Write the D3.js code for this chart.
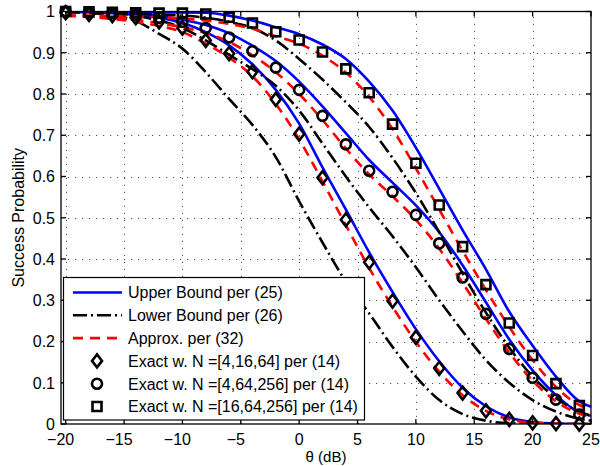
<!DOCTYPE html>
<html>
<head>
<meta charset="utf-8">
<script src="https://cdn.jsdelivr.net/npm/d3@7"></script>
<style>
  body { margin: 0; background: #fff; }
  svg { display: block; font-family: "Liberation Sans", Arial, sans-serif; }
</style>
</head>
<body>
<div id="chart"></div>
<script>
var width = 600
var height = 466

// theta (dB) grid for the markers and for the curves
var thetaMarks = [-20, -18, -16, -14, -12, -10, -8, -6, -4, -2, 0, 2, 4, 6, 8, 10, 12, 14, 16, 18, 20, 22, 24]
var thetaLine = [-20, -18, -16, -14, -12, -10, -8, -6, -4, -2, 0, 2, 4, 6, 8, 10, 12, 14, 16, 18, 20, 22, 24, 25]

// exact values per (14)
var exactA = [0.997, 0.993, 0.990, 0.985, 0.975, 0.960, 0.930, 0.898, 0.854, 0.787, 0.703, 0.597, 0.495, 0.392, 0.298, 0.210, 0.135, 0.075, 0.032, 0.011, 0.003, 0.001, 0.000]
var exactB = [1.000, 0.998, 0.996, 0.992, 0.985, 0.975, 0.960, 0.937, 0.904, 0.864, 0.810, 0.747, 0.678, 0.614, 0.563, 0.507, 0.438, 0.355, 0.267, 0.182, 0.112, 0.059, 0.023]
var exactC = [1.000, 0.999, 0.998, 0.997, 0.996, 0.996, 0.994, 0.986, 0.972, 0.951, 0.931, 0.902, 0.861, 0.803, 0.727, 0.632, 0.531, 0.430, 0.338, 0.245, 0.166, 0.098, 0.045]

// upper bound per (25)
var upperA = [0.999, 0.998, 0.996, 0.992, 0.985, 0.972, 0.950, 0.918, 0.872, 0.810, 0.728, 0.622, 0.520, 0.416, 0.320, 0.230, 0.152, 0.088, 0.043, 0.016, 0.005, 0.001, 0.000, 0.000]
var upperB = [1.000, 0.999, 0.997, 0.994, 0.989, 0.980, 0.967, 0.947, 0.917, 0.880, 0.830, 0.770, 0.705, 0.640, 0.585, 0.530, 0.465, 0.385, 0.295, 0.205, 0.130, 0.070, 0.028, 0.020]
var upperC = [1.000, 1.000, 0.999, 0.999, 0.998, 0.998, 0.997, 0.990, 0.978, 0.962, 0.945, 0.920, 0.885, 0.830, 0.760, 0.670, 0.570, 0.470, 0.375, 0.272, 0.190, 0.115, 0.055, 0.042]

// lower bound per (26)
var lowerA = [0.999, 0.996, 0.990, 0.977, 0.946, 0.910, 0.853, 0.788, 0.725, 0.647, 0.540, 0.440, 0.345, 0.268, 0.187, 0.115, 0.058, 0.024, 0.008, 0.002, 0.001, 0.000, 0.000, 0.000]
var lowerB = [0.999, 0.998, 0.995, 0.990, 0.978, 0.960, 0.930, 0.895, 0.860, 0.820, 0.760, 0.680, 0.600, 0.525, 0.455, 0.380, 0.300, 0.225, 0.155, 0.100, 0.058, 0.030, 0.013, 0.008]
var lowerC = [1.000, 0.999, 0.998, 0.996, 0.992, 0.990, 0.985, 0.975, 0.960, 0.930, 0.885, 0.835, 0.780, 0.720, 0.645, 0.560, 0.465, 0.365, 0.270, 0.185, 0.115, 0.063, 0.030, 0.020]

// approx. per (32)
var approxA = [0.990, 0.987, 0.982, 0.975, 0.965, 0.950, 0.922, 0.888, 0.843, 0.776, 0.690, 0.588, 0.482, 0.378, 0.284, 0.199, 0.127, 0.070, 0.032, 0.011, 0.003, 0.001, 0.000, 0.000]
var approxB = [0.990, 0.988, 0.985, 0.980, 0.972, 0.962, 0.948, 0.926, 0.894, 0.853, 0.800, 0.737, 0.668, 0.605, 0.552, 0.495, 0.425, 0.342, 0.255, 0.173, 0.105, 0.055, 0.025, 0.018]
var approxC = [0.990, 0.990, 0.989, 0.988, 0.986, 0.983, 0.978, 0.970, 0.958, 0.940, 0.922, 0.893, 0.852, 0.793, 0.715, 0.620, 0.520, 0.420, 0.325, 0.235, 0.155, 0.090, 0.046, 0.037]

var xTicks = [-20, -15, -10, -5, 0, 5, 10, 15, 20, 25]
var yTicks = [0, 0.1, 0.2, 0.3, 0.4, 0.5, 0.6, 0.7, 0.8, 0.9, 1]
var legendLabels = ["Upper Bound per (25)", "Lower Bound per (26)", "Approx. per (32)",
  "Exact w. N =[4,16,64] per (14)", "Exact w. N =[4,64,256] per (14)", "Exact w. N =[16,64,256] per (14)"]

var pLeft = 61, pRight = 591, pTop = 11.5, pBottom = 424

var x = d3.scaleLinear().domain([-20.4, 25]).range([pLeft, pRight])
var y = d3.scaleLinear().domain([0, 1]).range([pBottom, pTop])

var svg = d3.select("#chart").append("svg")
  .attr("width", width)
  .attr("height", height)

svg.append("defs").append("clipPath")
  .attr("id", "plot-clip")
  .append("rect")
  .attr("x", pLeft).attr("y", pTop)
  .attr("width", pRight - pLeft).attr("height", pBottom - pTop)

// grid
var grid = svg.append("g")
  .attr("stroke", "#555")
  .attr("stroke-width", 1)
  .attr("stroke-dasharray", "1.2,5.8")

grid.selectAll(".gx")
  .data(xTicks.filter(function (d) { return d < 25 }))
  .enter().append("line")
  .attr("x1", function (d) { return Math.round(x(d)) + 0.5 })
  .attr("x2", function (d) { return Math.round(x(d)) + 0.5 })
  .attr("y1", pBottom).attr("y2", pTop)

grid.selectAll(".gy")
  .data(yTicks.filter(function (d) { return d > 0 && d < 1 }))
  .enter().append("line")
  .attr("y1", function (d) { return Math.round(y(d)) + 0.5 })
  .attr("y2", function (d) { return Math.round(y(d)) + 0.5 })
  .attr("x1", pLeft).attr("x2", pRight)

// curves
var plot = svg.append("g").attr("clip-path", "url(#plot-clip)")

var line = d3.line()
  .x(function (d, i) { return x(thetaLine[i]) })
  .y(function (d) { return y(d) })
  .curve(d3.curveMonotoneX)

var styles = {
  upper: { color: "#0000ff", dash: null },
  lower: { color: "#000000", dash: "14,4,2,4" },
  approx: { color: "#ff0000", dash: "10,7" }
}

var curves = [
  ["upper", upperA], ["upper", upperB], ["upper", upperC],
  ["lower", lowerA], ["lower", lowerB], ["lower", lowerC],
  ["approx", approxA], ["approx", approxB], ["approx", approxC]
]

plot.selectAll(".curve")
  .data(curves)
  .enter().append("path")
  .attr("class", "curve")
  .attr("d", function (d) { return line(d[1]) })
  .attr("fill", "none")
  .attr("stroke", function (d) { return styles[d[0]].color })
  .attr("stroke-width", 2.6)
  .attr("stroke-dasharray", function (d) { return styles[d[0]].dash })

// markers
var symbols = {
  diamond: "M0,-6.5L5,0L0,6.5L-5,0Z",
  circle: "M5,0A5,5 0 1,1 -5,0A5,5 0 1,1 5,0Z",
  square: "M-4.5,-4.5H4.5V4.5H-4.5Z"
}

function drawMarkers(g, values, shape) {
  g.selectAll(".m-" + shape)
    .data(values)
    .enter().append("path")
    .attr("class", "m-" + shape)
    .attr("transform", function (d, i) { return "translate(" + x(thetaMarks[i]) + "," + y(d) + ")" })
    .attr("d", symbols[shape])
    .attr("fill", "none")
    .attr("stroke", "#000")
    .attr("stroke-width", 2.6)
}

var marks = svg.append("g")
drawMarkers(marks, exactA, "diamond")
drawMarkers(marks, exactB, "circle")
drawMarkers(marks, exactC, "square")

// axes box and ticks
var axes = svg.append("g").attr("stroke", "#000").attr("stroke-width", 1.3)

axes.append("rect")
  .attr("x", pLeft).attr("y", pTop)
  .attr("width", pRight - pLeft).attr("height", pBottom - pTop)
  .attr("fill", "none")

xTicks.forEach(function (t) {
  axes.append("line").attr("x1", x(t)).attr("x2", x(t)).attr("y1", pBottom).attr("y2", pBottom - 5)
  axes.append("line").attr("x1", x(t)).attr("x2", x(t)).attr("y1", pTop).attr("y2", pTop + 5)
})
yTicks.forEach(function (t) {
  axes.append("line").attr("x1", pLeft).attr("x2", pLeft + 5).attr("y1", y(t)).attr("y2", y(t))
  axes.append("line").attr("x1", pRight).attr("x2", pRight - 5).attr("y1", y(t)).attr("y2", y(t))
})

svg.append("g").selectAll("text")
  .data(xTicks)
  .enter().append("text")
  .attr("x", function (d) { return x(d) })
  .attr("dx", function (d) { return d < 0 ? -5 : 0 })
  .attr("y", 445)
  .attr("text-anchor", "middle")
  .attr("font-size", 16)
  .text(function (d) { return d < 0 ? "\u2212" + Math.abs(d) : d })

svg.append("g").selectAll("text")
  .data(yTicks)
  .enter().append("text")
  .attr("x", 55)
  .attr("y", function (d) { return y(d) + 5.8 })
  .attr("text-anchor", "end")
  .attr("font-size", 16)
  .text(function (d) { return d })

svg.append("text")
  .attr("x", (pLeft + pRight) / 2)
  .attr("y", 462)
  .attr("text-anchor", "middle")
  .attr("font-size", 15)
  .text("\u03b8 (dB)")

svg.append("text")
  .attr("transform", "translate(24," + (pTop + pBottom) / 2 + ") rotate(-90)")
  .attr("text-anchor", "middle")
  .attr("font-size", 16)
  .text("Success Probability")

// legend
var legend = svg.append("g")

legend.append("rect")
  .attr("x", 63.5).attr("y", 277.5)
  .attr("width", 301).attr("height", 142.5)
  .attr("fill", "#fff")
  .attr("stroke", "#000")
  .attr("stroke-width", 1.2)

var rowY = d3.scalePoint().domain(d3.range(6)).range([292.5, 406.5])
var legendStyle = ["upper", "lower", "approx"]
var legendShape = ["diamond", "circle", "square"]

legendLabels.forEach(function (label, i) {
  var yy = rowY(i)
  if (i < 3) {
    legend.append("line")
      .attr("x1", 73).attr("x2", 122)
      .attr("y1", yy).attr("y2", yy)
      .attr("stroke", styles[legendStyle[i]].color)
      .attr("stroke-width", 2.6)
      .attr("stroke-dasharray", styles[legendStyle[i]].dash)
  } else {
    legend.append("path")
      .attr("transform", "translate(97," + yy + ")")
      .attr("d", symbols[legendShape[i - 3]])
      .attr("fill", "none")
      .attr("stroke", "#000")
      .attr("stroke-width", 2.6)
  }
  legend.append("text")
    .attr("x", 128)
    .attr("y", yy + 5.8)
    .attr("font-size", 16)
    .text(label)
})
</script>
</body>
</html>
